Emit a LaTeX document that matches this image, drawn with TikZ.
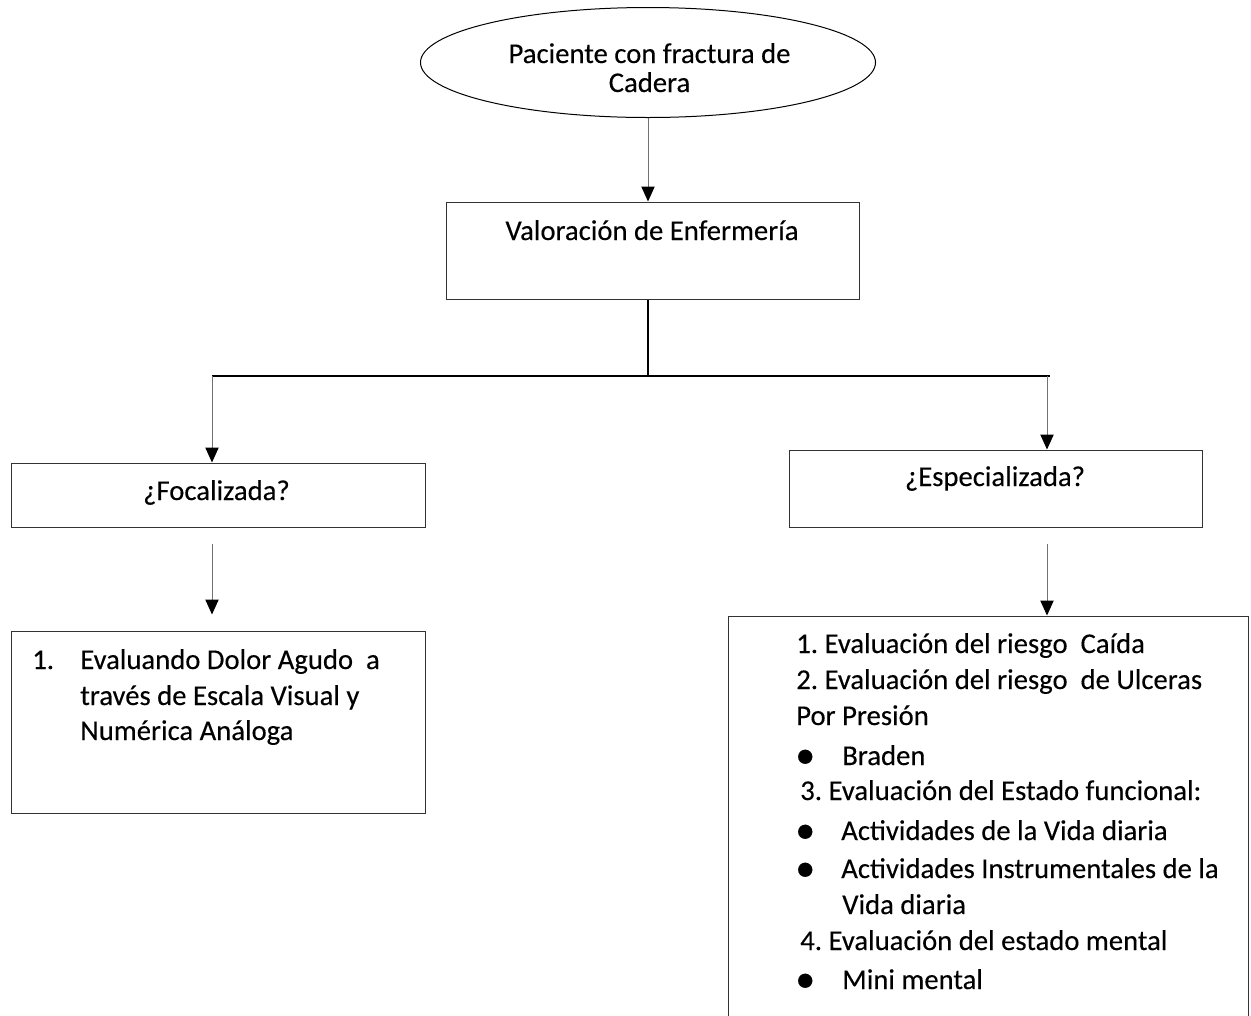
\documentclass[tikz,border=0pt]{standalone}
\usepackage{fontspec}
\setmainfont{Carlito}[FakeBold=0.25]
\usetikzlibrary{arrows.meta,shapes.geometric,calc}
\newcommand{\fs}{\fontsize{21.5}{25}\selectfont\frenchspacing}
\newcommand{\bul}{{\fontsize{30}{30}\selectfont •}}
\begin{document}
\begin{tikzpicture}[x=0.75pt,y=-0.75pt,
  boxst/.style={draw=black!80,line width=0.75pt,inner sep=0pt,rectangle},
  txt/.style={inner sep=0pt,anchor=base west,font=\fs},
  ctxt/.style={inner sep=0pt,anchor=base,font=\fs},
  conn/.style={draw=black!55,line width=0.75pt,-{Triangle[length=11.25pt,width=10pt,color=black]}},
  trunk/.style={draw=black,line width=1.1pt},
  bar/.style={draw=black,line width=1.6pt}]
\useasboundingbox (0,0) rectangle (1251,1015);
\clip (0,0) rectangle (1251,1015);
% shapes
\node[draw=black,line width=0.75pt,ellipse,minimum width=341.25pt,minimum height=82.5pt,inner sep=0pt] (ell) at (648,62.5) {};
\node[boxst,minimum width=309.75pt,minimum height=72.75pt] (val) at (652.5,250.5) {};
\node[boxst,minimum width=310.5pt,minimum height=48pt] (foc) at (218,495) {};
\node[boxst,minimum width=309.75pt,minimum height=57.75pt] (esp) at (995.5,488.5) {};
\node[boxst,minimum width=310.5pt,minimum height=136.5pt] (b1) at (218,722) {};
\node[boxst,minimum width=390pt,minimum height=318pt] (b2) at (988,828) {};
% junction coordinates
\coordinate (j) at (648,376);
\coordinate (jl) at (212,376);
\coordinate (jr) at (1047,376);
% connectors
\draw[conn] (ell.south) -- (ell.south |- val.north);
\draw[trunk] (val.south -| j) -- (j);
\draw[bar] ($(jl)+(-0.5,0)$) -- ($(jr)+(3,0)$);
\draw[conn] (jl) -- (jl |- foc.north);
\draw[conn] (jr) -- (jr |- esp.north);
\draw[conn] ($(foc.south -| jl)+(0,16)$) -- ($(b1.north -| jl)+(0,-16)$);
\draw[conn] ($(esp.south -| jr)+(0,16)$) -- (jr |- b2.north);
% texts
\node[ctxt] (t1) at (649.5,63) {Paciente con fractura de};
\node[ctxt] (t2) at (649.5,92) {Cadera};
\node[ctxt] (t3) at (652,240) {Valoración de Enfermería};
\node[ctxt] (t4) at (216.5,500) {¿Focalizada?};
\node[ctxt] (t5) at (995,486) {¿Especializada?};
\node[txt] (l0) at (32,669) {1.};
\node[txt] (l1) at (80,669) {Evaluando Dolor Agudo\ \ a};
\node[txt] (l2) at (80,705) {través de Escala Visual y};
\node[txt] (l3) at (80,740) {Numérica Análoga};
\node[txt] (r1) at (796,653) {1. Evaluación del riesgo\ \ Caída};
\node[txt] (r2) at (796,689) {2. Evaluación del riesgo\ \ de Ulceras};
\node[txt] (r3) at (796,725) {Por Presión};
\node[txt] (b1d) at (795,768) {\bul};
\node[txt] (r4) at (842,765) {Braden};
\node[txt] (r5) at (800,800) {3. Evaluación del Estado funcional:};
\node[txt] (b2d) at (795,843) {\bul};
\node[txt] (r6) at (841,840) {Actividades de la Vida diaria};
\node[txt] (b3d) at (795,881) {\bul};
\node[txt] (r7) at (841,878) {Actividades Instrumentales de la};
\node[txt] (r8) at (842,914) {Vida diaria};
\node[txt] (r9) at (800,950) {4. Evaluación del estado mental};
\node[txt] (b4d) at (795,992) {\bul};
\node[txt] (r10) at (842,989) {Mini mental};
\end{tikzpicture}
\end{document}
